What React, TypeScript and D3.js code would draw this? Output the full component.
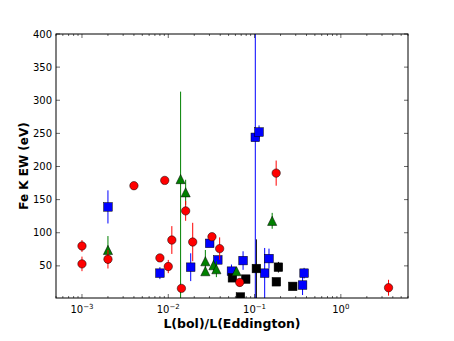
import React, { useEffect, useRef } from "react";
import * as d3 from "d3";

// red circles
const redX = [1.0e-3, 1.0e-3, 2.0e-3, 4.0e-3, 8.0e-3, 9.1e-3, 0.01, 0.011, 0.0142, 0.0159, 0.0192, 0.0321, 0.0394, 0.0673, 0.178, 3.57];
const redY = [80, 53, 60, 171, 62, 179, 49, 89, 16, 133, 86, 94, 76, 25, 190, 17];
const redErr = [9, 11, 14, 0, 0, 0, 10, 21, 0, 15, 29, 5, 17, 6, 19, 12];

// green triangles
const greenX = [2.0e-3, 0.0139, 0.0159, 0.0269, 0.0269, 0.0334, 0.0361, 0.0617, 0.16];
const greenY = [74, 181, 161, 57, 42, 51, 45, 42, 118];
const greenErrLo = [21, 200, 19, 17, 0, 8, 12, 6, 12];
const greenErrHi = [21, 132, 19, 17, 0, 8, 12, 6, 12];

// blue squares
const blueX = [2.0e-3, 8.0e-3, 0.0182, 0.0302, 0.0375, 0.054, 0.0736, 0.102, 0.1127, 0.131, 0.147, 0.36, 0.375];
const blueY = [139, 39, 48, 84, 59, 42, 58, 244, 252, 39, 61, 21, 39];
const blueErr = [25, 9, 21, 5, 5, 10, 14, 600, 10, 38, 15, 15, 8];

// black squares
const blackX = [0.0554, 0.0686, 0.079, 0.105, 0.179, 0.189, 0.277];
const blackY = [32, 3, 30, 46, 26, 48, 19];
const blackErrLo = [0, 0, 0, 60, 0, 8, 3];
const blackErrHi = [0, 0, 0, 44, 0, 8, 3];

const yTicks = [50, 100, 150, 200, 250, 300, 350, 400];
const xTicks = [1e-3, 1e-2, 1e-1, 1];
const xTickExp = ["\u22123", "\u22122", "\u22121", "0"];

export default function App() {
  const svgRef = useRef<SVGSVGElement>(null);

  useEffect(() => {
    const left = 56;
    const right = 408;
    const top = 34;
    const bottom = 298;
    const font = "DejaVu Sans, sans-serif";

    const svg = d3.select(svgRef.current);
    svg.selectAll("*").remove();

    const x = d3.scaleLog().domain([5e-4, 6]).range([left, right]);
    const y = d3.scaleLinear().domain([1.5, 400]).range([bottom, top]);

    svg.append("rect").attr("width", 454).attr("height", 341).attr("fill", "#fff");

    svg
      .append("defs")
      .append("clipPath")
      .attr("id", "plot")
      .append("rect")
      .attr("x", left)
      .attr("y", top)
      .attr("width", right - left)
      .attr("height", bottom - top);

    const plot = svg.append("g").attr("clip-path", "url(#plot)");

    // one errorbar series: bars first, then markers
    const drawSeries = (xs, ys, lo, hi, color, shape) => {
      const pts = xs.map((v, i) => ({ x: v, y: ys[i], lo: lo[i], hi: hi[i] }));
      plot
        .append("g")
        .selectAll("line")
        .data(pts.filter((d) => d.lo > 0 || d.hi > 0))
        .join("line")
        .attr("x1", (d) => x(d.x))
        .attr("x2", (d) => x(d.x))
        .attr("y1", (d) => y(d.y - d.lo))
        .attr("y2", (d) => y(d.y + d.hi))
        .attr("stroke", color)
        .attr("stroke-width", 1);

      const g = plot.append("g");
      if (shape === "circle") {
        g.selectAll("circle")
          .data(pts)
          .join("circle")
          .attr("cx", (d) => x(d.x))
          .attr("cy", (d) => y(d.y))
          .attr("r", 4.2);
      } else if (shape === "square") {
        const s = 8.6;
        g.selectAll("rect")
          .data(pts)
          .join("rect")
          .attr("x", (d) => x(d.x) - s / 2)
          .attr("y", (d) => y(d.y) - s / 2)
          .attr("width", s)
          .attr("height", s);
      } else {
        const h = 4.6;
        g.selectAll("path")
          .data(pts)
          .join("path")
          .attr("d", (d) => {
            const cx = x(d.x);
            const cy = y(d.y);
            return `M${cx},${cy - h}L${cx + h},${cy + h}L${cx - h},${cy + h}Z`;
          });
      }
      g.selectAll("*")
        .attr("fill", color)
        .attr("stroke", "#000")
        .attr("stroke-width", 0.5);
    };

    drawSeries(blueX, blueY, blueErr, blueErr, "#0000ff", "square");
    drawSeries(blackX, blackY, blackErrLo, blackErrHi, "#000000", "square");
    drawSeries(greenX, greenY, greenErrLo, greenErrHi, "#008000", "triangle");
    drawSeries(redX, redY, redErr, redErr, "#ff0000", "circle");

    // frame
    svg
      .append("rect")
      .attr("x", left)
      .attr("y", top)
      .attr("width", right - left)
      .attr("height", bottom - top)
      .attr("fill", "none")
      .attr("stroke", "#000")
      .attr("stroke-width", 1);

    const ticks = svg.append("g").attr("stroke", "#000").attr("stroke-width", 0.6);

    // y ticks, inward on both sides
    yTicks.forEach((t) => {
      const yy = y(t);
      ticks.append("line").attr("x1", left).attr("x2", left + 4).attr("y1", yy).attr("y2", yy);
      ticks.append("line").attr("x1", right).attr("x2", right - 4).attr("y1", yy).attr("y2", yy);
    });

    // x major and minor ticks on bottom and top
    const [d0, d1] = x.domain();
    const minor = [];
    for (let e = -4; e <= 0; e++) {
      for (let k = 2; k <= 9; k++) {
        const v = k * Math.pow(10, e);
        if (v >= d0 && v <= d1) minor.push(v);
      }
    }
    minor.forEach((t) => {
      const xx = x(t);
      ticks.append("line").attr("x1", xx).attr("x2", xx).attr("y1", bottom).attr("y2", bottom - 2);
      ticks.append("line").attr("x1", xx).attr("x2", xx).attr("y1", top).attr("y2", top + 2);
    });
    xTicks.forEach((t) => {
      const xx = x(t);
      ticks.append("line").attr("x1", xx).attr("x2", xx).attr("y1", bottom).attr("y2", bottom - 4);
      ticks.append("line").attr("x1", xx).attr("x2", xx).attr("y1", top).attr("y2", top + 4);
    });

    // y tick labels
    svg
      .append("g")
      .selectAll("text")
      .data(yTicks)
      .join("text")
      .attr("x", left - 4)
      .attr("y", (d) => y(d))
      .attr("dy", "0.36em")
      .attr("text-anchor", "end")
      .style("font", `10px ${font}`)
      .text((d) => d);

    // x tick labels as 10^n
    const xl = svg
      .append("g")
      .selectAll("text")
      .data(xTicks)
      .join("text")
      .attr("x", (d) => x(d))
      .attr("y", 313)
      .attr("text-anchor", "middle")
      .style("font", `10px ${font}`);
    xl.append("tspan").text("10");
    xl.append("tspan")
      .attr("dy", -4.5)
      .style("font-size", "7px")
      .text((d, i) => xTickExp[i]);

    svg
      .append("text")
      .attr("x", (left + right) / 2)
      .attr("y", 328)
      .attr("text-anchor", "middle")
      .style("font", `bold 12.5px ${font}`)
      .text("L(bol)/L(Eddington)");

    svg
      .append("text")
      .attr("transform", `translate(27.5, ${(top + bottom) / 2}) rotate(-90)`)
      .attr("text-anchor", "middle")
      .style("font", `bold 12px ${font}`)
      .text("Fe K EW (eV)");
  }, []);

  return (
    <svg
      ref={svgRef}
      width={454}
      height={341}
      style={{ position: "absolute", left: 0, top: 0 }}
    />
  );
}
